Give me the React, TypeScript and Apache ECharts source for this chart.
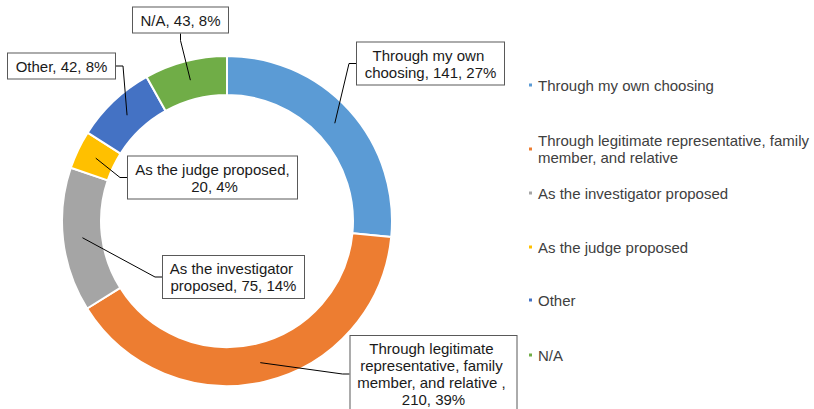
import React, { useEffect, useRef } from 'react';
import * as echarts from 'echarts';

const categories = [
  'Through my own choosing',
  'Through legitimate representative, family member, and relative ',
  'As the investigator proposed',
  'As the judge proposed',
  'Other',
  'N/A',
];
const counts = [141, 210, 75, 20, 42, 43];
const colors = ['#5B9BD5', '#ED7D31', '#A5A5A5', '#FFC000', '#4472C4', '#70AD47'];

// label box layout: box centre and text width
const labelBoxes = [
  { cx: 430.5, cy: 63.5, w: 135 },
  { cx: 433.5, cy: 374, w: 154 },
  { cx: 233.5, cy: 277, w: 129 },
  { cx: 212.5, cy: 177.5, w: 157 },
  { cx: 61.5, cy: 66, w: 95 },
  { cx: 180.5, cy: 20, w: 83 },
];
const legendTops = [76.5, 123.5, 184.5, 238.5, 291.5, 346.5];

export default function App() {
  const ref = useRef<HTMLDivElement>(null);
  useEffect(() => {
    const chart = echarts.init(ref.current!, null, { renderer: 'svg' });
    const font = '"Liberation Sans", Arial, sans-serif';
    const ringData = categories.map((name, i) => ({ name, value: counts[i] }));
    const labelData = categories.map((name, i) => ({
      name,
      value: counts[i],
      label: { width: labelBoxes[i].w },
    }));
    chart.setOption({
      animation: false,
      backgroundColor: '#ffffff',
      color: colors,
      legend: categories.map((name, i) => ({
        data: [name],
        left: 527,
        top: legendTops[i],
        orient: 'vertical',
        icon: 'rect',
        itemWidth: 5,
        itemHeight: 5,
        padding: 0,
        selectedMode: false,
        textStyle: {
          fontFamily: font,
          fontSize: 15,
          lineHeight: 17,
          color: '#404040',
          width: 290,
          overflow: 'break',
          padding: i === 1 ? [17, 0, 0, 0] : 0,
        },
      })),
      series: [
        {
          type: 'pie',
          z: 2,
          center: [227, 221],
          radius: [126, 165],
          startAngle: 90,
          clockwise: true,
          silent: true,
          label: { show: false },
          labelLine: { show: false },
          itemStyle: { borderColor: '#ffffff', borderWidth: 2 },
          data: ringData,
        },
        {
          type: 'pie',
          z: 5,
          center: [227, 221],
          radius: [0, 145.5],
          startAngle: 90,
          clockwise: true,
          silent: true,
          percentPrecision: 0,
          avoidLabelOverlap: false,
          itemStyle: { color: 'rgba(0,0,0,0)' },
          label: {
            show: true,
            position: 'outside',
            formatter: '{b}, {c}, {d}%',
            fontFamily: font,
            fontSize: 15,
            lineHeight: 17,
            color: '#1a1a1a',
            backgroundColor: '#ffffff',
            borderColor: '#595959',
            borderWidth: 1,
            padding: [4, 6],
            overflow: 'break',
            align: 'center',
          },
          labelLine: {
            show: true,
            length: 10,
            length2: 7,
            minTurnAngle: 90,
            lineStyle: { color: '#000000', width: 1 },
          },
          labelLayout: (params: any) => {
            const b = labelBoxes[params.dataIndex];
            return { x: b.cx, y: b.cy, align: 'center', verticalAlign: 'middle' };
          },
          data: labelData,
        },
      ],
    });
    return () => chart.dispose();
  }, []);
  return (
    <div
      ref={ref}
      style={{ position: 'absolute', left: 0, top: 0, width: 814, height: 409 }}
    />
  );
}
